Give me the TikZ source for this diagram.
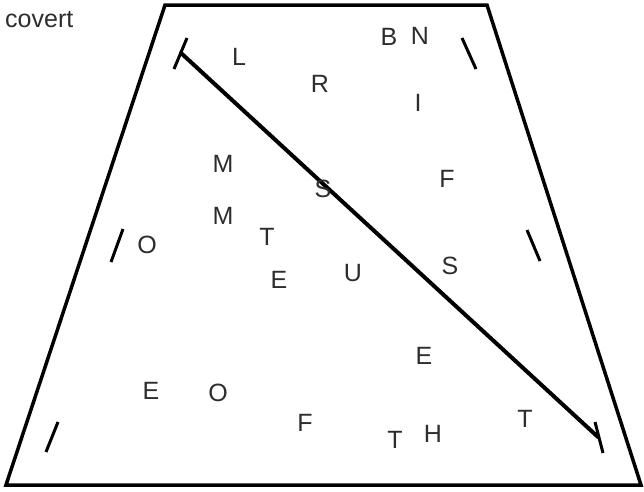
\documentclass[tikz,border=0pt]{standalone}
\usepackage{fontspec}
\setmainfont{Liberation Sans}
\usetikzlibrary{positioning}
\definecolor{InkGray}{RGB}{45,45,45}
\tikzset{
  frame/.style={line width=3.5pt, line join=miter},
  tick/.style={line width=3pt},
  cut/.style={line width=4pt, line cap=round},
  letter/.style={font=\fontsize{25}{28}\selectfont, text=InkGray, inner sep=0pt},
}

\begin{document}
\begin{tikzpicture}[x=1pt, y=-1pt]
  \useasboundingbox (0,0) rectangle (644,491);
  % trapezoid
  \coordinate (tl) at (165,5); \coordinate (tr) at (487,5);
  \coordinate (br) at (641,485); \coordinate (bl) at (6,485);
  \draw[frame] (tl) -- (tr) -- (br) -- (bl) -- cycle;
  % tick marks
  \draw[tick] (187,38) -- (174,69);
  \draw[tick] (462,38) -- (476,69);
  \draw[tick] (123,229) -- (111,262);
  \draw[tick] (527,230) -- (540,261);
  \draw[tick] (58,422) -- (46,452);
  \draw[tick] (595,422) -- (603,453);
  % diagonal
  \coordinate (cutA) at (181,53); \coordinate (cutB) at (598,437);
  \draw[cut] (cutA) -- (cutB);
  % letters
  \node[letter, anchor=west] (cap) at (5,20) {covert};
  \foreach \ch/\x/\y [count=\i] in {L/239/57, R/320/84, B/389/37, N/420/36, I/418/103,
      M/223/164, S/323/189, F/447/179, M/223/216, T/267/237, O/147/245,
      E/279/280, U/353/273, S/450/266, E/424/356, E/151/391, O/218/393,
      F/305/423, T/395/440, H/433/434, T/525/419}
    \node[letter] (ch\i) at (\x,\y) {\ch};
\end{tikzpicture}
\end{document}
